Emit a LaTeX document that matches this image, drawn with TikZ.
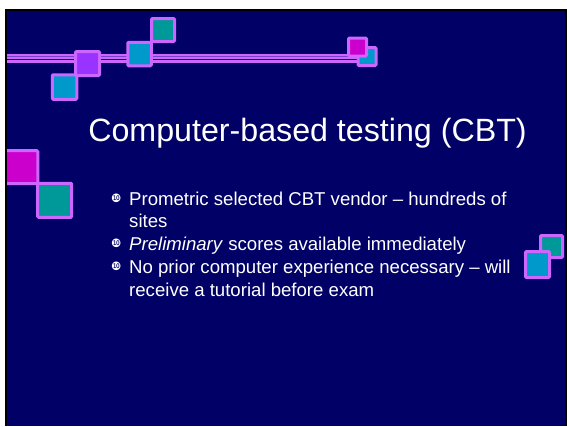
\documentclass[tikz,border=0pt]{standalone}
\usepackage{fontspec}
\setmainfont{Liberation Sans}
\newfontfamily\dingfont{DejaVu Sans}
\definecolor{slidebg}{HTML}{000066}
\definecolor{rimviolet}{HTML}{CC66FF}
\definecolor{raildark}{HTML}{7A3FD0}
\definecolor{tealfill}{HTML}{009999}
\definecolor{cyanfill}{HTML}{0099CC}
\definecolor{purplefill}{HTML}{9933FF}
\definecolor{magentafill}{HTML}{CC00CC}
\tikzset{
  tile/.style={draw=rimviolet, line width=3pt, inner sep=0pt, rounded corners=1pt, minimum size=#1},
  rail/.style={rimviolet, line width=#1},
  titletext/.style={anchor=base, text=white, inner sep=0pt, font=\fontsize{32.2}{38}\selectfont},
  bodytext/.style={anchor=base west, text=white, inner sep=0pt, font=\fontsize{18.6}{22}\selectfont},
  dot/.style={text=white, inner sep=0pt, font=\dingfont\fontsize{11.5}{11.5}\selectfont}
}
\begin{document}
\begin{tikzpicture}[x=1pt, y=-1pt]
\useasboundingbox (0,0) rectangle (567,426);
% page, frame and slide area
\fill[white] (0,0) rectangle (567,426);
\fill[black] (5,9) rectangle (567,426);
\fill[slidebg] (7,11) rectangle (565,426);

\begin{scope}
\clip (7,11) rectangle (565,426);
% double rail across the top
\coordinate (railAL) at (7,56.7);
\coordinate (railAR) at (358,56.7);
\coordinate (railBL) at (7,61.4);
\coordinate (railBR) at (358,61.4);
\draw[rail=4.5pt] (railAL) -- (railAR);
\draw[raildark, line width=1.4pt] (railAL) -- (railAR);
\draw[rail=2.8pt] (railBL) -- (railBR);

% tiles on the rail
\node[tile=18pt, fill=cyanfill] (r2) at (367,56.5) {};
\node[tile=18pt, fill=magentafill] (r1) at (357.5,47) {};
\node[tile=23pt, fill=tealfill] (t1) at (163,30) {};
\node[tile=23.5pt, fill=cyanfill] (t2) at (139.5,54) {};
\node[tile=24.5pt, fill=cyanfill] (t4) at (64.5,87) {};
\node[tile=24pt, fill=purplefill] (t3) at (87.5,63.5) {};

% tiles at the left edge
\node[tile=33pt, fill=magentafill] (l1) at (21.3,167.2) {};
\node[tile=34pt, fill=tealfill] (l2) at (54.7,200.3) {};

% tiles at the right edge
\node[tile=22pt, fill=tealfill] (e1) at (551.5,246.5) {};
\node[tile=24pt, minimum height=26pt, fill=cyanfill] (e2) at (537.5,264.6) {};
\end{scope}

% title
\node[titletext] (title) at (307.5,141) {Computer-based testing (CBT)};

% bullet list
\node[dot] (b1) at (116.3,198) {❿};
\node[bodytext] (i1a) at (129,205) {Prometric selected CBT vendor – hundreds of};
\node[bodytext] (i1b) at (129,227.5) {sites};
\node[dot] (b2) at (116.3,243.5) {❿};
\node[bodytext] (i2) at (129,250.5) {\textit{Preliminary} scores available immediately};
\node[dot] (b3) at (116.3,266.5) {❿};
\node[bodytext] (i3a) at (129,273.5) {No prior computer experience necessary – will};
\node[bodytext] (i3b) at (129,296.5) {receive a tutorial before exam};
\end{tikzpicture}
\end{document}
